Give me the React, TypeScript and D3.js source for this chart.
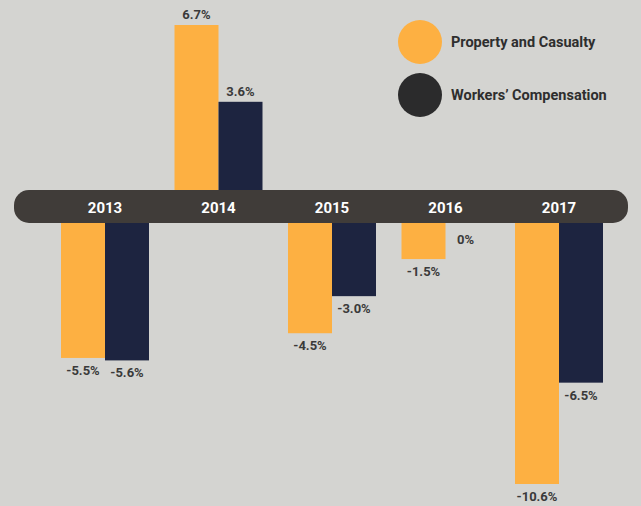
import React, { useRef, useEffect } from "react";
import { select, scaleLinear, scalePoint, scaleBand } from "d3";

const years = ["2013", "2014", "2015", "2016", "2017"];
const seriesNames = ["Property and Casualty", "Workers\u2019 Compensation"];
const propertyCasualty = [-5.5, 6.7, -4.5, -1.5, -10.6];
const workersComp = [-5.6, 3.6, -3.0, 0, -6.5];
const valueLabels = [
  ["-5.5%", "6.7%", "-4.5%", "-1.5%", "-10.6%"],
  ["-5.6%", "3.6%", "-3.0%", "0%", "-6.5%"]
];

const colors = ["#fdb042", "#1d2440"];
const legendColors = ["#fdb042", "#2b2b2c"];

function App() {
  const svgRef = useRef<SVGSVGElement>(null);

  useEffect(() => {
    const width = 641;
    const height = 506;
    const axisTop = 191;
    const axisBottom = 222;

    const svg = select(svgRef.current);
    svg.selectAll("*").remove();
    svg.attr("width", width).attr("height", height);

    svg.append("rect")
      .attr("width", width)
      .attr("height", height)
      .attr("fill", "#d4d4d1");

    const xScale = scalePoint<string>().domain(years).range([105, 559]);
    const inner = scaleBand<number>().domain([0, 1]).range([-44, 44]);
    const yUp = scaleLinear().domain([0, 6.7]).range([axisTop, 25]);
    const yDown = scaleLinear().domain([0, -10.6]).range([axisBottom, 484]);

    const series = [propertyCasualty, workersComp];

    series.forEach((vals, s) => {
      const g = svg.append("g");
      g.selectAll("rect")
        .data(vals)
        .join("rect")
        .attr("x", (d, i) => (xScale(years[i]) as number) + (inner(s) as number))
        .attr("width", inner.bandwidth())
        .attr("y", (d) => (d >= 0 ? yUp(d) : axisBottom))
        .attr("height", (d) => (d >= 0 ? axisTop - yUp(d) : yDown(d) - axisBottom))
        .attr("fill", colors[s]);

      g.selectAll("text")
        .data(vals)
        .join("text")
        .attr("x", (d, i) => (xScale(years[i]) as number) + (inner(s) as number) + inner.bandwidth() / 2 + (d === 0 ? -2 : 0))
        .attr("y", (d) => (d > 0 ? yUp(d) - 6 : d === 0 ? axisBottom + 22 : yDown(d) + 17))
        .attr("text-anchor", "middle")
        .attr("font-family", "Roboto, 'DejaVu Sans', sans-serif")
        .attr("font-weight", "bold")
        .attr("font-size", 13)
        .attr("fill", "#3a3a3a")
        .text((d, i) => valueLabels[s][i]);
    });

    // axis pill
    svg.append("rect")
      .attr("x", 14)
      .attr("y", axisTop - 1)
      .attr("width", 614)
      .attr("height", axisBottom - axisTop + 2)
      .attr("rx", 15)
      .attr("fill", "#403c39");

    svg.append("g")
      .selectAll("text")
      .data(years)
      .join("text")
      .attr("x", (d) => xScale(d) as number)
      .attr("y", 213)
      .attr("text-anchor", "middle")
      .attr("font-family", "'Liberation Sans Narrow', 'Roboto', sans-serif")
      .attr("font-weight", "bold")
      .attr("font-size", 15)
      .attr("fill", "#ffffff")
      .text((d) => d);

    // legend
    const legend = svg.append("g");
    seriesNames.forEach((name, i) => {
      const cy = 42 + i * 53;
      legend.append("circle")
        .attr("cx", 420)
        .attr("cy", cy)
        .attr("r", 22)
        .attr("fill", legendColors[i]);
      legend.append("text")
        .attr("x", 451)
        .attr("y", cy + 5)
        .attr("font-family", "Roboto, 'DejaVu Sans', sans-serif")
        .attr("font-weight", "bold")
        .attr("font-size", 14.5)
        .attr("fill", "#2e2e2e")
        .text(name);
    });
  }, []);

  return (
    <div style={{ position: "absolute", left: 0, top: 0 }}>
      <svg ref={svgRef}></svg>
    </div>
  );
}

export default App;
